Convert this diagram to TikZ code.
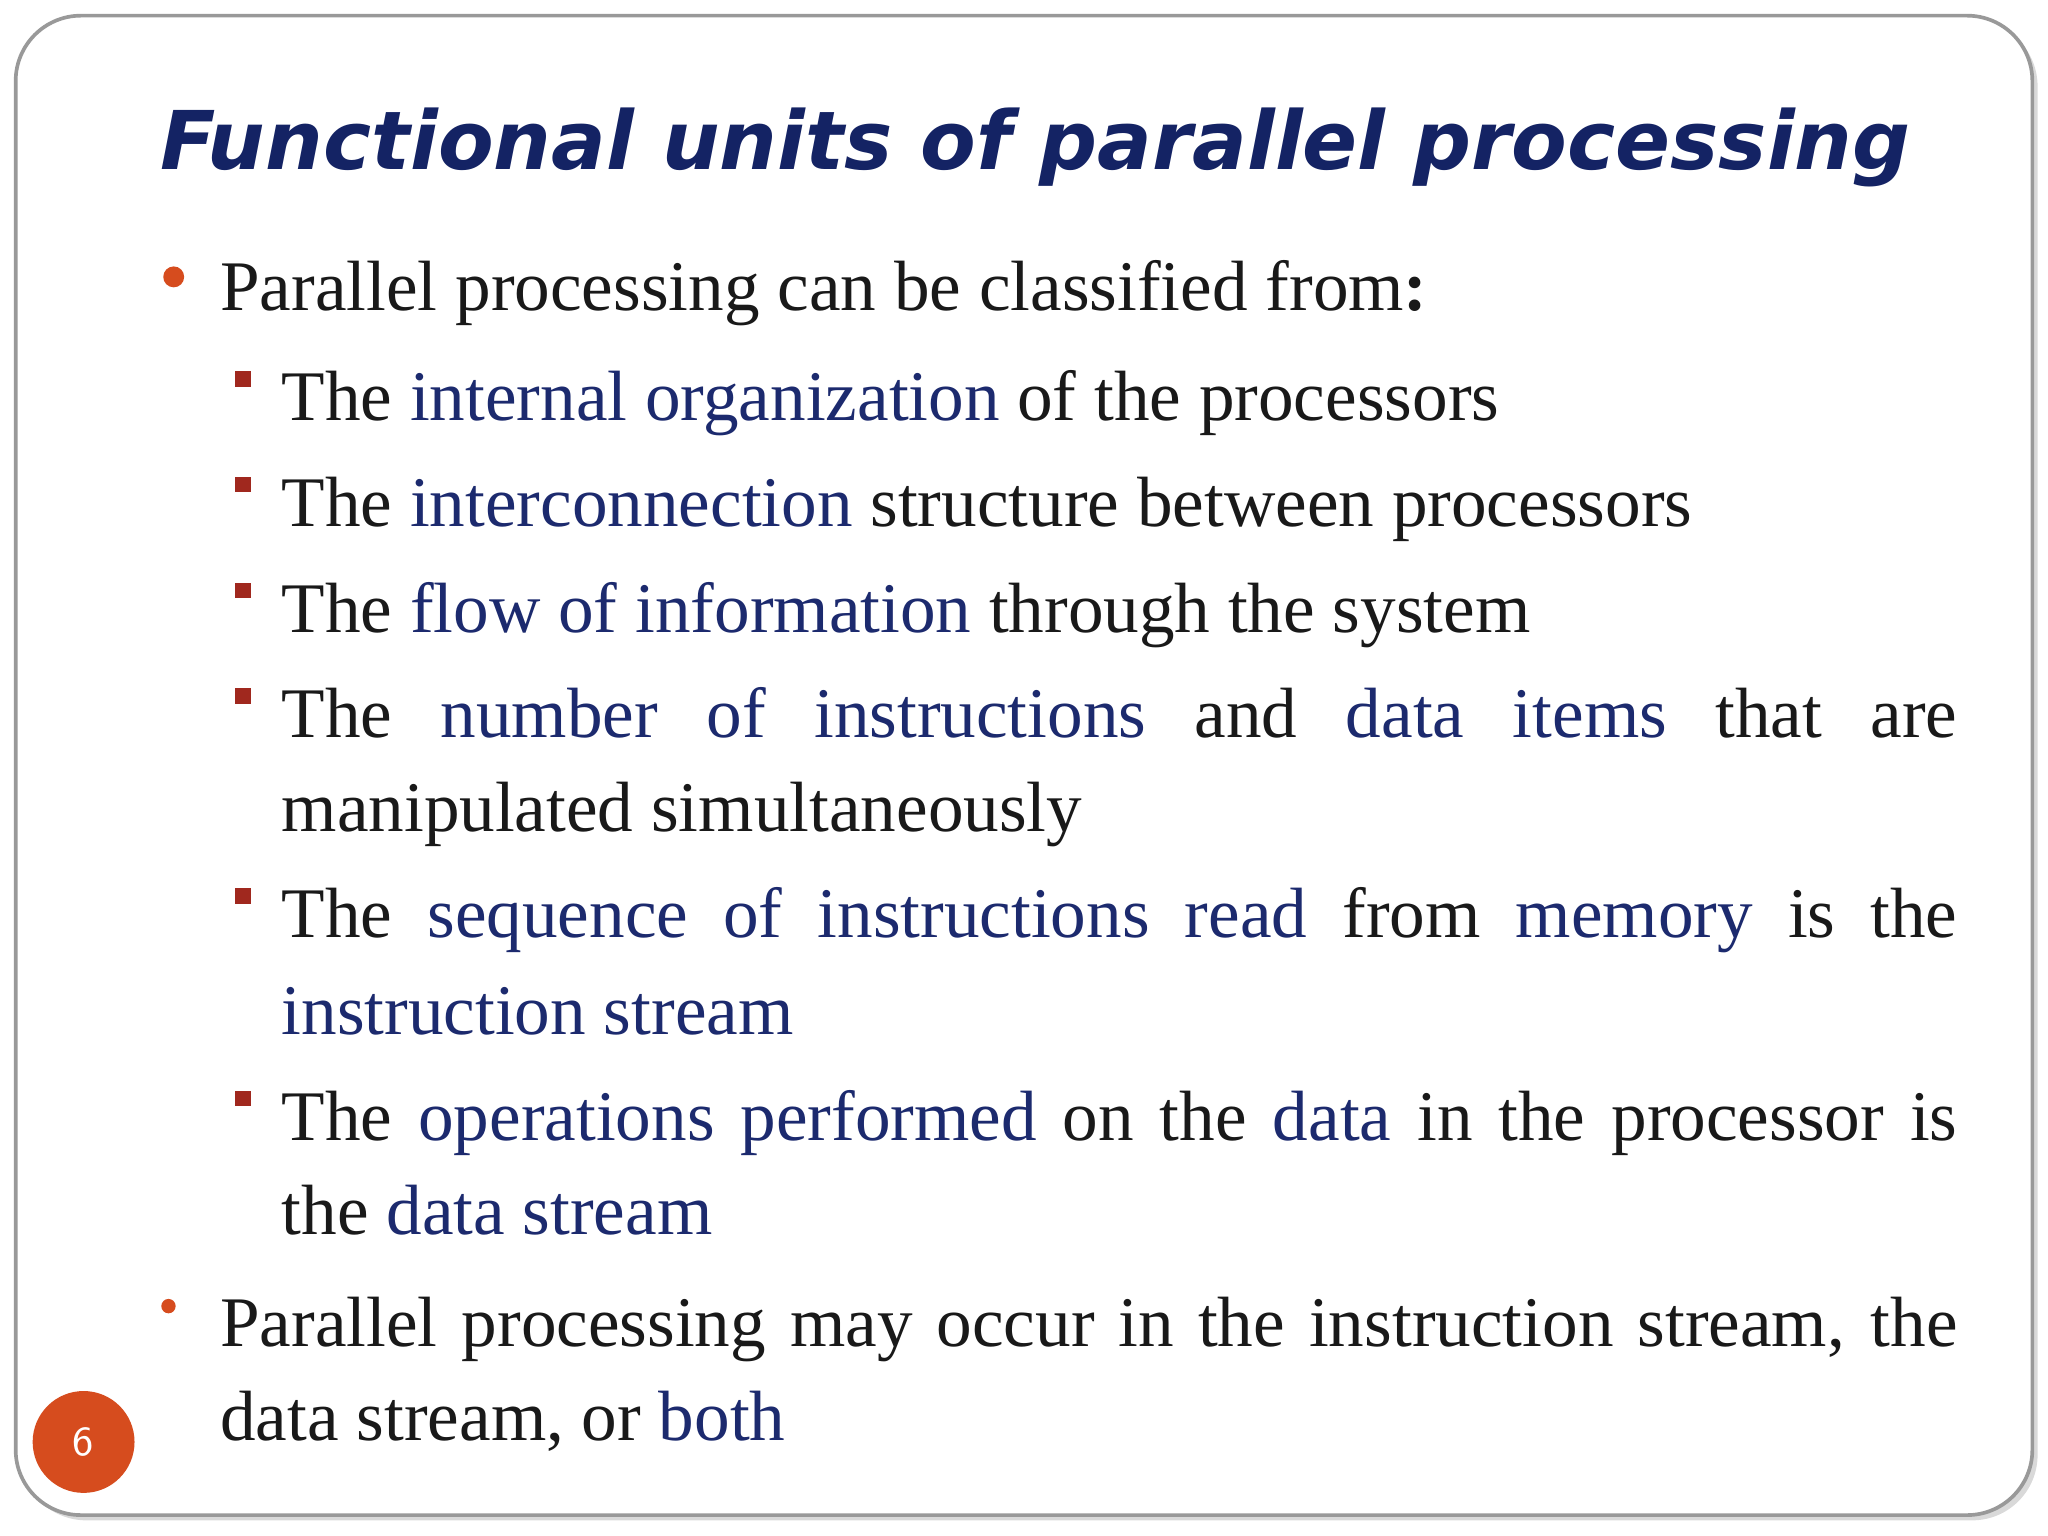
\documentclass[tikz,border=0pt]{standalone}
\usepackage{fontspec}
\setmainfont{Liberation Serif}
\newfontfamily\titlefont{DejaVu Sans}
\usetikzlibrary{shadows}
\definecolor{navy}{RGB}{28,42,110}
\definecolor{titleblue}{RGB}{20,35,100}
\definecolor{orng}{RGB}{214,76,30}
\definecolor{sqred}{RGB}{160,40,30}
\newcommand{\hl}[1]{\textcolor{navy}{#1}}
\tikzset{
 body/.style={anchor=base west,inner sep=0pt,font=\fontsize{15.5}{18}\selectfont,text=black!90},
 sq/.style={fill=sqred,minimum size=0.12cm,inner sep=0pt},
 dot/.style={circle,fill=orng,inner sep=0pt}
}
\begin{document}
\begin{tikzpicture}
\useasboundingbox (0,0) rectangle (15.68,-11.76);
\draw[gray!80,line width=0.8pt,rounded corners=0.5cm,drop shadow={opacity=0.3,shadow xshift=0.04cm,shadow yshift=-0.04cm},fill=white] (0.12,-0.12) rectangle (15.56,-11.6);
\node (title) [anchor=base west,inner sep=0pt,text=titleblue] at (1.22,-1.30)
 {\resizebox{13.4cm}{!}{\titlefont\bfseries\itshape Functional units of parallel processing}};
\node[dot,minimum size=0.16cm] (b1) at (1.33,-2.12) {};
\node[body] (l1) at (1.68,-2.38) {Parallel processing can be classified from\textbf{:}};
\node[sq] (s1) at (1.86,-2.90) {};
\node[body] (i1) at (2.15,-3.22) {The \hl{internal organization} of the processors};
\node[sq] (s2) at (1.86,-3.71) {};
\node[body] (i2) at (2.15,-4.03) {The \hl{interconnection} structure between processors};
\node[sq] (s3) at (1.86,-4.52) {};
\node[body] (i3) at (2.15,-4.84) {The \hl{flow of information} through the system};
\node[sq] (s4) at (1.86,-5.33) {};
\node[body] (i4) at (2.15,-5.65) {\makebox[12.83cm][s]{The \hl{number of instructions} and \hl{data items} that are}};
\node[body] (i4b) at (2.15,-6.37) {manipulated simultaneously};
\node[sq] (s5) at (1.86,-6.86) {};
\node[body] (i5) at (2.15,-7.18) {\makebox[12.83cm][s]{The \hl{sequence of instructions read} from \hl{memory} is the}};
\node[body] (i5b) at (2.15,-7.92) {\hl{instruction stream}};
\node[sq] (s6) at (1.86,-8.41) {};
\node[body] (i6) at (2.15,-8.73) {\makebox[12.83cm][s]{The \hl{operations performed} on the \hl{data} in the processor is}};
\node[body] (i6b) at (2.15,-9.45) {the \hl{data stream}};
\node[dot,minimum size=0.11cm] (b2) at (1.29,-10.00) {};
\node[body] (l2) at (1.68,-10.31) {\makebox[13.30cm][s]{Parallel processing may occur in the instruction stream, the}};
\node[body] (l2b) at (1.68,-11.03) {data stream, or \hl{both}};
\node[circle,fill=orng,minimum size=0.78cm,inner sep=0pt,text=white,font=\sffamily\small] (pg) at (0.64,-11.04) {6};
\end{tikzpicture}
\end{document}
